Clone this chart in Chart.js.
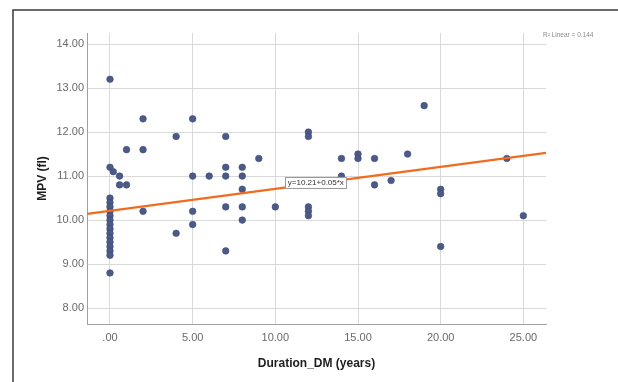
<!DOCTYPE html>
<html>
<head>
<meta charset="utf-8">
<title>MPV by diabetes duration</title>
<script src="https://cdn.jsdelivr.net/npm/chart.js@4/dist/chart.umd.min.js"></script>
<style>
  html, body { margin: 0; padding: 0; background: #ffffff; }
  canvas { display: block; }
</style>
</head>
<body>
<canvas id="chart" width="618" height="382"></canvas>
<script>
// Duration of diabetes (years) and mean platelet volume (fl), one entry per patient
const durationYears = [
  0, 0, 0, 0, 0, 0, 0, 0, 0, 0, 0, 0, 0, 0, 0, 0, 0,
  0.2, 0.58, 0.58, 1, 1,
  2, 2, 2, 4, 4,
  5, 5, 5, 5, 6,
  7, 7, 7, 7, 7,
  8, 8, 8, 8, 8,
  9, 10,
  12, 12, 12, 12, 12,
  14, 14, 15, 15, 16, 16, 17, 18, 19,
  20, 20, 20, 24, 25
];
const mpvFl = [
  13.2, 11.2, 10.5, 10.4, 10.3, 10.2, 10.1, 10.0, 9.9, 9.8, 9.7, 9.6, 9.5, 9.4, 9.3, 9.2, 8.8,
  11.1, 11.0, 10.8, 11.6, 10.8,
  12.3, 11.6, 10.2, 11.9, 9.7,
  12.3, 11.0, 10.2, 9.9, 11.0,
  11.9, 11.2, 11.0, 10.3, 9.3,
  11.2, 11.0, 10.7, 10.3, 10.0,
  11.4, 10.3,
  12.0, 11.9, 10.3, 10.2, 10.1,
  11.4, 11.0, 11.5, 11.4, 11.4, 10.8, 10.9, 11.5, 12.6,
  10.7, 10.6, 9.4, 11.4, 10.1
];

// Linear fit: y = intercept + slope * x, R² = rSquared
const fitIntercept = 10.21;
const fitSlope = 0.05;
const rSquared = 0.144;

// Axis ranges and tick labels
const xRange = [-1.39, 26.37];
const yRange = [7.64, 14.25];
const xTickValues = [0, 5, 10, 15, 20, 25];
const xTickLabels = ['.00', '5.00', '10.00', '15.00', '20.00', '25.00'];
const yTickValues = [8, 9, 10, 11, 12, 13, 14];
const yTickLabels = ['8.00', '9.00', '10.00', '11.00', '12.00', '13.00', '14.00'];

const FONT = "'Liberation Sans', Arial, sans-serif";

const points = durationYears.map((x, i) => ({ x: x, y: mpvFl[i] }));
const fitAt = x => fitIntercept + fitSlope * x;
const fitLine = [
  { x: xRange[0], y: fitAt(xRange[0]) },
  { x: xRange[1], y: fitAt(xRange[1]) }
];

// Outer frame and white background
const framePlugin = {
  id: 'frame',
  beforeDraw(chart) {
    const ctx = chart.ctx;
    ctx.save();
    ctx.fillStyle = '#ffffff';
    ctx.fillRect(0, 0, chart.width, chart.height);
    ctx.strokeStyle = '#3a3a3a';
    ctx.lineWidth = 1.5;
    ctx.beginPath();
    ctx.moveTo(13, chart.height);
    ctx.lineTo(13, 10);
    ctx.lineTo(chart.width, 10);
    ctx.stroke();
    ctx.restore();
  }
};

// Fit equation box on the line and R² note at the top right
const fitLabelPlugin = {
  id: 'fitLabel',
  afterDatasetsDraw(chart) {
    const ctx = chart.ctx;
    const xs = chart.scales.x, ys = chart.scales.y;
    const lx = 12.45;
    const cx = xs.getPixelForValue(lx);
    const cy = ys.getPixelForValue(fitAt(lx)) - 1;
    const text = 'y=' + fitIntercept.toFixed(2) + '+' + fitSlope.toFixed(2) + '*x';
    ctx.save();
    ctx.font = '8px ' + FONT;
    const w = ctx.measureText(text).width + 5;
    const h = 11;
    ctx.fillStyle = '#ffffff';
    ctx.fillRect(cx - w / 2, cy - h / 2, w, h);
    ctx.strokeStyle = '#9a9a9a';
    ctx.lineWidth = 1;
    ctx.strokeRect(Math.round(cx - w / 2) + 0.5, Math.round(cy - h / 2) + 0.5, Math.round(w), h);
    ctx.fillStyle = '#333333';
    ctx.textAlign = 'center';
    ctx.textBaseline = 'middle';
    ctx.fillText(text, cx, cy + 0.5);

    ctx.font = '6.5px ' + FONT;
    ctx.fillStyle = '#8a8a8a';
    ctx.textAlign = 'left';
    ctx.fillText('R\u00B2 Linear = ' + rSquared.toFixed(3), chart.chartArea.right - 3, chart.chartArea.top + 2);
    ctx.restore();
  }
};

new Chart(document.getElementById('chart'), {
  type: 'scatter',
  data: {
    datasets: [
      {
        type: 'line',
        label: 'Linear',
        data: fitLine,
        borderColor: '#f26a1d',
        borderWidth: 2.2,
        pointRadius: 0,
        fill: false,
        order: 0
      },
      {
        label: 'MPV',
        data: points,
        backgroundColor: '#4b5a86',
        borderColor: '#3d4b77',
        borderWidth: 0.6,
        pointRadius: 3.3,
        order: 1
      }
    ]
  },
  options: {
    responsive: false,
    animation: false,
    layout: { padding: { left: 12, top: 33, right: 72, bottom: 0 } },
    plugins: {
      legend: { display: false },
      tooltip: { enabled: false }
    },
    scales: {
      x: {
        type: 'linear',
        min: xRange[0],
        max: xRange[1],
        afterBuildTicks(scale) { scale.ticks = xTickValues.map(v => ({ value: v })); },
        afterFit(scale) { scale.height = 58; },
        grid: { color: '#d9d9d9', lineWidth: 1, drawTicks: false },
        border: { color: '#a0a0a0', width: 1 },
        ticks: {
          padding: 7,
          color: '#6a6a6a',
          font: { family: FONT, size: 11 },
          maxRotation: 0,
          callback: v => xTickLabels[xTickValues.indexOf(v)]
        },
        title: {
          display: true,
          text: 'Duration_DM (years)',
          color: '#1e1e1e',
          font: { family: FONT, size: 12, weight: 'bold' },
          padding: { top: 0, bottom: 11 }
        }
      },
      y: {
        type: 'linear',
        min: yRange[0],
        max: yRange[1],
        afterBuildTicks(scale) { scale.ticks = yTickValues.map(v => ({ value: v })); },
        afterFit(scale) { scale.width = 75; },
        grid: { color: '#d9d9d9', lineWidth: 1, drawTicks: false },
        border: { color: '#a0a0a0', width: 1 },
        ticks: {
          padding: 3,
          color: '#6a6a6a',
          font: { family: FONT, size: 11 },
          callback: v => yTickLabels[yTickValues.indexOf(v)]
        },
        title: {
          display: true,
          text: 'MPV (fl)',
          color: '#1e1e1e',
          font: { family: FONT, size: 12, weight: 'bold' },
          padding: { top: 23, bottom: 0 }
        }
      }
    }
  },
  plugins: [framePlugin, fitLabelPlugin]
});
</script>
</body>
</html>
